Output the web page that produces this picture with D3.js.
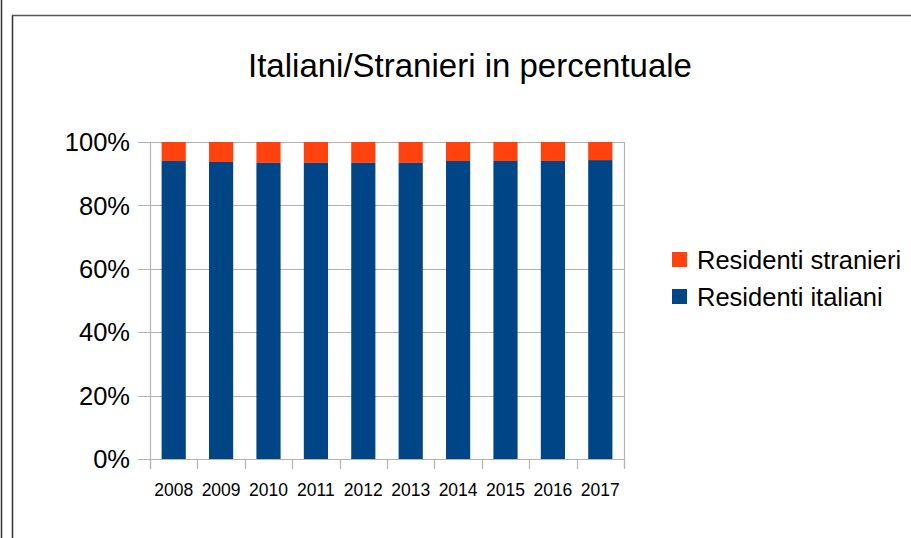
<!DOCTYPE html>
<html><head><meta charset="utf-8">
<script src="https://cdn.jsdelivr.net/npm/d3@7/dist/d3.min.js"></script>
<style>body{margin:0;background:#fff}svg{display:block;font-family:"Liberation Sans",Arial,sans-serif}</style>
</head><body>
<script>
const years = ["2008","2009","2010","2011","2012","2013","2014","2015","2016","2017"];
const italiani = [94.0, 93.7, 93.4, 93.4, 93.4, 93.4, 94.0, 94.0, 94.0, 94.3];
const stranieri = [6.0, 6.3, 6.6, 6.6, 6.6, 6.6, 6.0, 6.0, 6.0, 5.7];
const yTicks = [0, 20, 40, 60, 80, 100];
const seriesNames = ["Residenti stranieri", "Residenti italiani"];
const colors = {"Residenti italiani": "#004586", "Residenti stranieri": "#ff420e"};

(function () {
const W = 911, H = 538;
const svg = d3.select("body").append("svg").attr("width", W).attr("height", H);

// frame lines
svg.append("line").attr("x1", 1.5).attr("x2", 1.5).attr("y1", 0).attr("y2", H).attr("stroke", "#333").attr("stroke-width", 1.5);
svg.append("line").attr("x1", 12.5).attr("x2", 12.5).attr("y1", 15).attr("y2", H).attr("stroke", "#333").attr("stroke-width", 1.5);
svg.append("line").attr("x1", 12).attr("x2", W).attr("y1", 15.5).attr("y2", 15.5).attr("stroke", "#555").attr("stroke-width", 1.5);

const pL = 150, pR = 624, pT = 142, pB = 459;
const x = d3.scaleBand().domain(years).range([pL, pR]).paddingInner(0.49).paddingOuter(0.245);
const xb = d3.scaleBand().domain(years).range([pL, pR]);
const y = d3.scaleLinear().domain([0, 100]).range([pB, pT]);

// gridlines
svg.append("g").selectAll("line").data(yTicks).join("line")
  .attr("x1", pL - 12).attr("x2", pR).attr("y1", d => Math.round(y(d)) + 0.5).attr("y2", d => Math.round(y(d)) + 0.5)
  .attr("stroke", "#b3b3b3").attr("stroke-width", 1.2);

// left axis line and right wall border
svg.append("line").attr("x1", pL + 0.5).attr("x2", pL + 0.5).attr("y1", pT).attr("y2", pB + 10).attr("stroke", "#b3b3b3").attr("stroke-width", 1.2);
svg.append("line").attr("x1", pR + 0.5).attr("x2", pR + 0.5).attr("y1", pT).attr("y2", pB + 10).attr("stroke", "#b3b3b3").attr("stroke-width", 1.2);

// x ticks at category boundaries
const bounds = years.map(d => xb(d)).concat([pR]);
svg.append("g").selectAll("line").data(bounds).join("line")
  .attr("x1", d => Math.round(d) + 0.5).attr("x2", d => Math.round(d) + 0.5).attr("y1", pB).attr("y2", pB + 10)
  .attr("stroke", "#b3b3b3").attr("stroke-width", 1.2);

// stacked bars
const rows = years.map((yr, i) => ({year: yr, "Residenti italiani": italiani[i], "Residenti stranieri": stranieri[i]}));
const stack = d3.stack().keys(["Residenti italiani", "Residenti stranieri"])(rows);
svg.append("g").selectAll("g").data(stack).join("g").attr("fill", s => colors[s.key])
  .selectAll("rect").data(s => s).join("rect")
  .attr("x", d => x(d.data.year)).attr("width", x.bandwidth())
  .attr("y", d => y(d[1])).attr("height", d => y(d[0]) - y(d[1]));

// y labels
svg.append("g").selectAll("text").data(yTicks).join("text")
  .attr("x", 130).attr("y", d => y(d)).attr("dy", "0.36em").attr("text-anchor", "end")
  .attr("font-size", 25.5).attr("fill", "#000").text(d => d + "%");

// x labels
svg.append("g").selectAll("text").data(years).join("text")
  .attr("x", d => xb(d) + xb.bandwidth() / 2).attr("y", 496).attr("text-anchor", "middle")
  .attr("font-size", 17.5).attr("fill", "#000").text(d => d);

// title
svg.append("text").attr("x", 470).attr("y", 77).attr("text-anchor", "middle").attr("font-size", 33).attr("fill", "#000")
  .text("Italiani/Stranieri in percentuale");

// legend
const lg = svg.append("g").selectAll("g").data(seriesNames).join("g")
  .attr("transform", (d, i) => `translate(672,${252 + i * 37})`);
lg.append("rect").attr("width", 15).attr("height", 15).attr("fill", d => colors[d]);
lg.append("text").attr("x", 25).attr("y", 7.5).attr("dy", "0.36em").attr("font-size", 25.5).attr("fill", "#000").text(d => d);
})();
</script>
</body></html>
